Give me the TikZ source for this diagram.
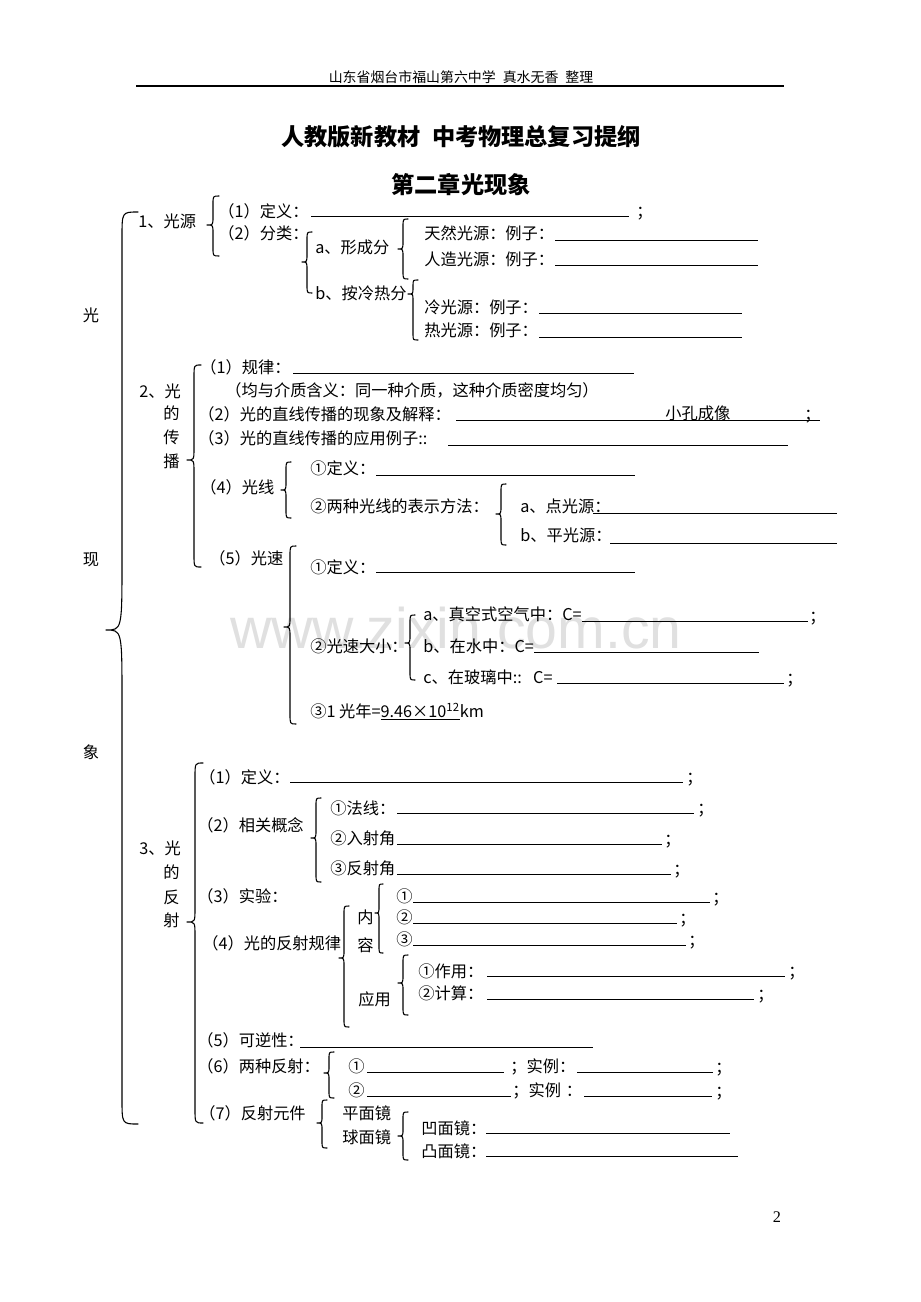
\documentclass[tikz,border=0pt]{standalone}
\usepackage{fontspec}
\setmainfont{Noto Sans CJK SC}
\newfontfamily\wmfont{Liberation Sans}
\newfontfamily\pgfont{Liberation Serif}
\newcommand\bodyf{\fontsize{10.5pt}{12pt}\selectfont}
\newcommand\hdrf{\fontsize{9pt}{11pt}\selectfont}
\newcommand\ttlf{\fontsize{15pt}{18pt}\selectfont\bfseries}
% left brace: x(spine) top tip bottom halfwidth tiplen endlen
\newcommand\mybrace[7]{%
\draw[brc] ({#1+#5},#2) .. controls (#1,#2) .. (#1,{#2+#7}) -- (#1,{#3-#6}) .. controls (#1,#3) .. ({#1-#5},#3) .. controls (#1,#3) .. (#1,{#3+#6}) -- (#1,{#4-#7}) .. controls (#1,#4) .. ({#1+#5},#4);}
\begin{document}
\begin{tikzpicture}[x=0.64674pt,y=-0.64674pt,
  t/.style={anchor=west,inner sep=0pt,text height=8.8pt,text depth=0.8pt,font=\bodyf},
  big/.style={anchor=center,inner sep=0pt,font=\bodyf},
  brc/.style={line width=0.7pt,line join=round,line cap=round},
  uline/.style={line width=0.6pt},
  wm/.style={anchor=base,inner sep=0pt,text=black!12,font=\wmfont\fontsize{37pt}{40pt}\selectfont}]
\useasboundingbox (0,0) rectangle (920,1302);
\fill[white] (0,0) rectangle (920,1302);
% watermark
\node[wm] (wm) at (456,648) {www.zixin.com.cn};
% header
\node[anchor=center,inner sep=0pt,font=\hdrf] (hdr) at (461,77) {山东省烟台市福山第六中学\hspace{0.5em}真水无香\hspace{0.5em}整理};
\draw[line width=0.9pt] (136,86) -- (784,86);
\node[anchor=center,inner sep=0pt,font=\ttlf] (title) at (461,137) {人教版新教材\hspace{0.5em}中考物理总复习提纲};
\node[anchor=center,inner sep=0pt,font=\ttlf] (chap) at (461,185) {第二章光现象};
% left column
\node[big] (L1) at (91,315) {光};
\node[big] (L2) at (91,560) {现};
\node[big] (L3) at (91,752) {象};
\mybrace{122}{212}{630}{1124}{16}{70}{25}

% ---------- section 1
\node[t] (s1) at (138,221) {1、光源};
\mybrace{213}{196}{225}{256}{6}{8}{8}
\node[t] (a1) at (218,211) {（1）定义：};
\draw[uline] (311,216) -- (629,216);
\node[t] (a1e) at (636,211) {；};
\node[t] (a2) at (218,233) {（2）分类：};
\mybrace{307}{232}{262}{293}{5}{8}{8}
\node[t] (a3) at (315,247) {a、形成分};
\mybrace{403}{219}{249}{279}{5}{8}{8}
\node[t] (a4) at (424,233) {天然光源：例子：};
\draw[uline] (555,240) -- (758,240);
\node[t] (a5) at (424,259) {人造光源：例子：};
\draw[uline] (555,265) -- (758,265);
\node[t] (a6) at (315,293) {b、按冷热分};
\mybrace{413}{280}{294}{340}{5}{6}{6}
\node[t] (a7) at (424,307) {冷光源：例子：};
\draw[uline] (539,313) -- (742,313);
\node[t] (a8) at (424,330) {热光源：例子：};
\draw[uline] (539,337) -- (742,337);

% ---------- section 2
\node[t] (s2) at (139,391) {2、光};
\node[t] (s2b) at (163,413) {的};
\node[t] (s2c) at (163,437) {传};
\node[t] (s2d) at (163,461) {播};
\mybrace{194}{365}{460}{567}{7}{12}{12}
\node[t] (b1) at (200,367) {（1）规律：};
\draw[uline] (293,373) -- (634,373);
\node[t] (b2) at (225,390) {（均与介质含义：同一种介质，这种介质密度均匀）};
\node[t] (b3) at (198,414) {（2）光的直线传播的现象及解释：};
\draw[uline] (456,420) -- (820,420);
\node[t] (b3a) at (665,413) {小孔成像};
\node[t] (b3e) at (804,414) {；};
\node[t] (b4) at (198,438) {（3）光的直线传播的应用例子::};
\draw[uline] (448,445) -- (788,445);
\node[t] (b5) at (200,487) {（4）光线};
\mybrace{286}{462}{490}{518}{5}{8}{8}
\node[t] (b6) at (310,468) {①定义：};
\draw[uline] (376,475) -- (635,475);
\node[t] (b7) at (310,506) {②两种光线的表示方法：};
\mybrace{501}{484}{514}{545}{5}{8}{8}
\node[t] (b8) at (520,506) {a、点光源：};
\draw[uline] (593,513) -- (837,513);
\node[t] (b9) at (520,535) {b、平光源：};
\draw[uline] (610,543) -- (837,543);
\node[t] (b10) at (209,558) {（5）光速};
\mybrace{290}{546}{627}{724}{6}{10}{10}
\node[t] (b11) at (310,567) {①定义：};
\draw[uline] (376,572) -- (635,572);
\node[t] (b12) at (310,646) {②光速大小：};
\mybrace{410}{615}{643}{680}{5}{8}{8}
\node[t] (b13) at (423,614) {a、真空式空气中：C=};
\draw[uline] (582,621) -- (808,621);
\node[t] (b13e) at (809,616) {；};
\node[t] (b14) at (423,646) {b、在水中：C=};
\draw[uline] (534,652) -- (759,652);
\node[t] (b15) at (423,677) {c、在玻璃中::\hspace{0.7em}C=};
\draw[uline] (557,683) -- (784,683);
\node[t] (b15e) at (786,678) {；};
\node[t] (b16) at (310,711) {③1 光年=\underline{9.46×10\textsuperscript{12}}km};

% ---------- section 3
\node[t] (s3) at (139,848) {3、光};
\node[t] (s3b) at (163,872) {的};
\node[t] (s3c) at (163,897) {反};
\node[t] (s3d) at (163,920) {射};
\mybrace{195}{763}{922}{1123}{8}{14}{14}
\node[t] (c1) at (199,777) {（1）定义：};
\draw[uline] (290,782) -- (683,782);
\node[t] (c1e) at (686,777) {；};
\node[t] (c2) at (197,825) {（2）相关概念};
\mybrace{316}{798}{838}{882}{5}{8}{8}
\node[t] (c3) at (330,808) {①法线：};
\draw[uline] (397,813) -- (694,813);
\node[t] (c3e) at (697,808) {；};
\node[t] (c4) at (330,838) {②入射角};
\draw[uline] (397,844) -- (662,844);
\node[t] (c4e) at (664,839) {；};
\node[t] (c5) at (330,868) {③反射角};
\draw[uline] (397,874) -- (671,874);
\node[t] (c5e) at (673,869) {；};
\node[t] (c6) at (197,896) {（3）实验：};
\node[t] (c7) at (202,943) {（4）光的反射规律};
\mybrace{344}{906}{958}{1027}{5}{8}{8}
\node[t] (c8) at (357,917) {内};
\node[t] (c8b) at (357,945) {容};
\mybrace{379}{884}{913}{953}{4}{7}{7}
\node[t] (c9) at (396,896) {①};
\draw[uline] (413,902) -- (710,902);
\node[t] (c9e) at (712,897) {；};
\node[t] (c10) at (396,917) {②};
\draw[uline] (413,923) -- (677,923);
\node[t] (c10e) at (679,918) {；};
\node[t] (c11) at (396,939) {③};
\draw[uline] (413,945) -- (686,945);
\node[t] (c11e) at (688,940) {；};
\node[t] (c12) at (358,999) {应用};
\mybrace{403}{955}{983}{1015}{5}{8}{8}
\node[t] (c13) at (418,971) {①作用：};
\draw[uline] (487,976) -- (785,976);
\node[t] (c13e) at (788,971) {；};
\node[t] (c14) at (418,993) {②计算：};
\draw[uline] (487,999) -- (754,999);
\node[t] (c14e) at (757,994) {；};
\node[t] (c15) at (197,1040) {（5）可逆性：};
\draw[uline] (300,1047) -- (593,1047);
\node[t] (c16) at (197,1066) {（6）两种反射：};
\mybrace{329}{1052}{1073}{1098}{5}{7}{7}
\node[t] (c17) at (348,1066) {①};
\draw[uline] (367,1072) -- (504,1072);
\node[t] (c17a) at (510,1066) {；实例：};
\draw[uline] (577,1072) -- (713,1072);
\node[t] (c17e) at (715,1067) {；};
\node[t] (c18) at (348,1090) {②};
\draw[uline] (367,1096) -- (511,1096);
\node[t] (c18a) at (512,1090) {；实例\hspace{0.3em}：};
\draw[uline] (584,1096) -- (712,1096);
\node[t] (c18e) at (715,1091) {；};
\node[t] (c19) at (199,1113) {（7）反射元件};
\mybrace{322}{1100}{1123}{1148}{5}{7}{7}
\node[t] (c20) at (342,1113) {平面镜};
\node[t] (c20b) at (342,1137) {球面镜};
\mybrace{403}{1112}{1136}{1160}{5}{7}{7}
\node[t] (c21) at (421,1128) {凹面镜：};
\draw[uline] (486,1133) -- (730,1133);
\node[t] (c22) at (421,1151) {凸面镜：};
\draw[uline] (486,1156) -- (738,1156);
% page number
\node[anchor=center,inner sep=0pt,font=\pgfont\fontsize{10.5pt}{12pt}\selectfont] (pg) at (777,1217) {2};
\end{tikzpicture}
\end{document}
